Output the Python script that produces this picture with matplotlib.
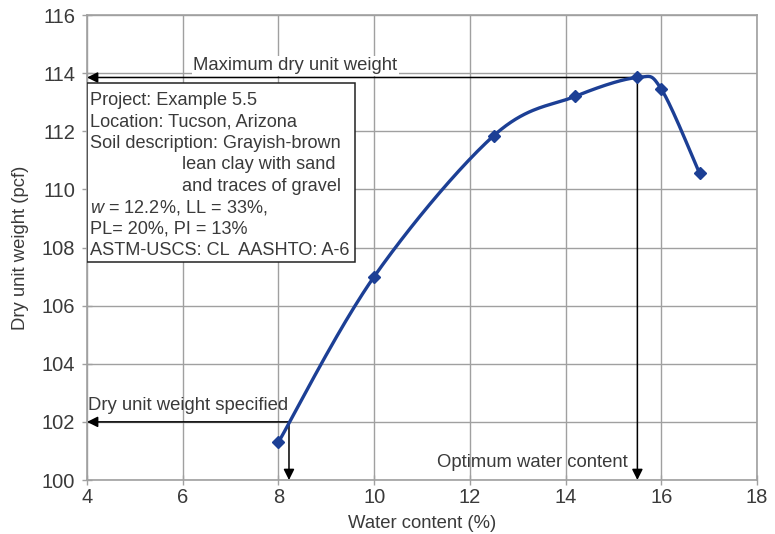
import numpy as np
import matplotlib
matplotlib.use("Agg")
from matplotlib import pyplot as plt
from matplotlib.patches import Rectangle

plt.rcParams['font.family'] = ['Liberation Sans', 'DejaVu Sans']
plt.rcParams['mathtext.fontset'] = 'custom'
plt.rcParams['mathtext.rm'] = 'Liberation Sans'
plt.rcParams['mathtext.it'] = 'Liberation Sans:italic'

# compaction test points
water_content = [8.0, 10.0, 12.5, 14.2, 15.5, 16.0, 16.8]
dry_unit_weight = [101.3, 107.0, 111.85, 113.2, 113.85, 113.45, 110.55]

max_dry_weight = 113.85
optimum_w = 15.5
specified_weight = 102.0
specified_w = 8.22

x_ticks = [4, 6, 8, 10, 12, 14, 16, 18]
y_ticks = [100, 102, 104, 106, 108, 110, 112, 114, 116]

info_lines = [
    "Project: Example 5.5",
    "Location: Tucson, Arizona",
    "Soil description: Grayish-brown",
    "lean clay with sand",
    "and traces of gravel",
    "$w$ = 12.2%, LL = 33%,",
    "PL= 20%, PI = 13%",
    "ASTM-USCS: CL  AASHTO: A-6",
]
indented = [3, 4]

text_color = '#3a3a3a'
curve_color = '#1c3f95'
grid_color = '#a0a0a0'


def smooth_curve(xs, ys, sx, sy, n=40):
    # bezier smoothing like a spreadsheet "smoothed line", done in screen-ish units
    p = np.column_stack([np.array(xs) * sx, np.array(ys) * sy])
    pts = []
    for i in range(len(p) - 1):
        p0 = p[i - 1] if i > 0 else p[i]
        p3 = p[i + 2] if i + 2 < len(p) else p[i + 1]
        c1 = p[i] + (p[i + 1] - p0) / 6
        c2 = p[i + 1] - (p3 - p[i]) / 6
        t = np.linspace(0, 1, n)[:, None]
        seg = ((1 - t) ** 3) * p[i] + 3 * ((1 - t) ** 2) * t * c1 + 3 * (1 - t) * t ** 2 * c2 + t ** 3 * p[i + 1]
        pts.append(seg if i == 0 else seg[1:])
    pts = np.vstack(pts)
    return pts[:, 0] / sx, pts[:, 1] / sy


fig = plt.figure(figsize=(7.75, 5.34), dpi=100)
ax = fig.add_axes([0.1123, 0.1011, 0.8645, 0.8708])

ax.set_xlim(4, 18)
ax.set_ylim(100, 116)
ax.set_xticks(x_ticks)
ax.set_yticks(y_ticks)
ax.grid(True, color=grid_color, lw=1)
ax.set_axisbelow(True)
for s in ax.spines.values():
    s.set_color(grid_color)
    s.set_linewidth(1.2)
ax.tick_params(direction='inout', length=7, width=1, color=grid_color,
               labelsize=14.5, labelcolor=text_color)
ax.tick_params(axis='x', pad=2)
ax.tick_params(axis='y', pad=5)
ax.set_xlabel("Water content (%)", fontsize=13.3, color=text_color, labelpad=6)
ax.set_ylabel("Dry unit weight (pcf)", fontsize=13.3, color=text_color, labelpad=9)

# curve
cx, cy = smooth_curve(water_content, dry_unit_weight, 47.86, 29.0)
ax.plot(cx, cy, color=curve_color, lw=2.4, zorder=4)
ax.plot(water_content, dry_unit_weight, 'D', color=curve_color, ms=6.5, zorder=5)

# guide arrows
arrow = dict(arrowstyle='-|>', color='black', lw=1.1, mutation_scale=16, shrinkA=0, shrinkB=0)
ax.annotate("", xy=(4, max_dry_weight), xytext=(optimum_w, max_dry_weight), arrowprops=arrow, zorder=3)
ax.annotate("", xy=(optimum_w, 100), xytext=(optimum_w, max_dry_weight), arrowprops=arrow, zorder=3)
ax.annotate("", xy=(4, specified_weight), xytext=(specified_w, specified_weight), arrowprops=arrow, zorder=3)
ax.annotate("", xy=(specified_w, 100), xytext=(specified_w, specified_weight), arrowprops=arrow, zorder=3)

ax.text(8.35, 114.25, "Maximum dry unit weight", fontsize=13.3, color=text_color, ha='center', va='center',
        bbox=dict(facecolor='white', edgecolor='none', pad=1), zorder=3)
ax.text(4.03, 102.55, "Dry unit weight specified", fontsize=13.3, color=text_color, ha='left', va='center', zorder=3)
ax.text(15.3, 100.6, "Optimum water content", fontsize=13.3, color=text_color, ha='right', va='center', zorder=3)

# info box
ax.add_patch(Rectangle((4, 107.5), 5.6, 6.16, facecolor='white', edgecolor='#222222', lw=1.1, zorder=6))
for i, line in enumerate(info_lines):
    x = 5.98 if i in indented else 4.06
    ax.text(x, 113.06 - i * 0.738, line, fontsize=13.1, color=text_color, ha='left', va='center', zorder=7)

fig.savefig("out.png", dpi=100)
